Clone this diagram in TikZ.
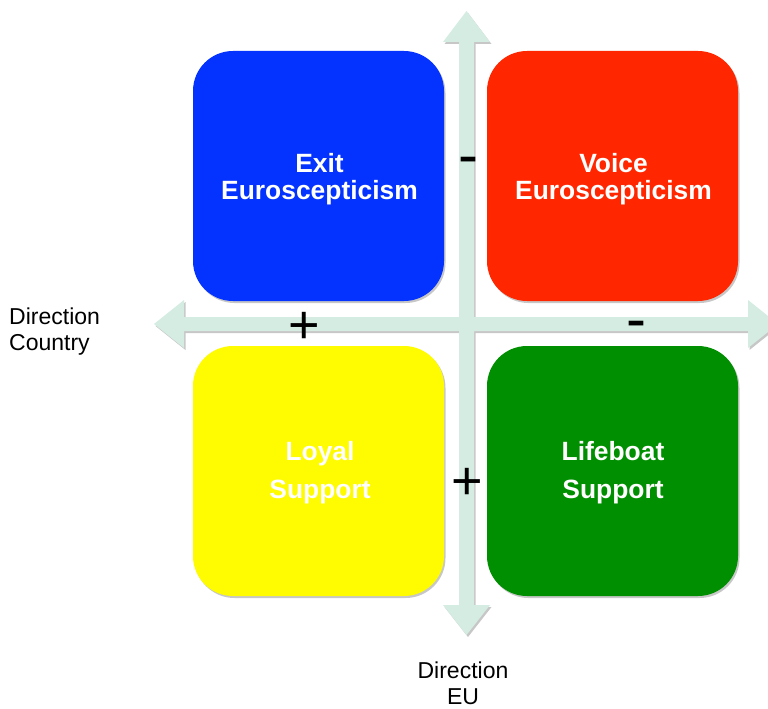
\documentclass[tikz,border=0pt]{standalone}
\usepackage{fontspec}
\setmainfont{Liberation Sans}
\usetikzlibrary{shadows}
\definecolor{axiscol}{RGB}{212,236,226}
\definecolor{exitcol}{RGB}{4,51,255}
\definecolor{voicecol}{RGB}{255,38,0}
\definecolor{loyalcol}{RGB}{255,251,0}
\definecolor{lifecol}{RGB}{0,143,0}
\tikzset{
  softshadow/.style={drop shadow={shadow xshift=1.5pt, shadow yshift=-2pt, opacity=0.22, fill=black}},
  quad/.style={draw=none, minimum width=251pt, minimum height=250pt, rounded corners=40pt, inner sep=0pt, softshadow},
  quadtext/.style={text=white, align=center, inner sep=0pt, font=\fontsize{26.4}{27}\selectfont\bfseries},
  quadtextwide/.style={quadtext, font=\fontsize{26.4}{38}\selectfont\bfseries},
  axislabel/.style={inner sep=0pt, font=\fontsize{23}{26}\selectfont},
  plussign/.style={inner sep=0pt, anchor=base, font=\fontsize{54}{54}\selectfont},
  minussign/.style={inner sep=0pt, anchor=base, font=\fontsize{60}{60}\selectfont},
}
\begin{document}
\begin{tikzpicture}[x=1pt,y=-1pt]
\useasboundingbox (0,0) rectangle (768,709);
\fill[white] (0,0) rectangle (768,709);

% both axes as one filled outline, so they share a single shadow
\fill[axiscol, softshadow]
  (466.5,11) -- (490,42) -- (474,42) -- (474,317) -- (748,317) -- (748,300)
  -- (778,324) -- (748,348) -- (748,331) -- (474,331) -- (474,605) -- (490,605)
  -- (466.5,635) -- (443,605) -- (459,605) -- (459,331) -- (184,331) -- (184,348)
  -- (154,324) -- (184,300) -- (184,317) -- (459,317) -- (459,42) -- (443,42) -- cycle;

% the four quadrants
\node[quad, fill=exitcol]  (exit)  at (318.5,176) {};
\node[quad, fill=voicecol] (voice) at (612.5,176) {};
\node[quad, fill=loyalcol] (loyal) at (318.5,471) {};
\node[quad, fill=lifecol]  (life)  at (612.5,471) {};

\node[quadtext, anchor=north] (exitlbl)  at (319.5,153) {Exit\\Euroscepticism};
\node[quadtext, anchor=north] (voicelbl) at (613.5,153) {Voice\\Euroscepticism};
\node[quadtextwide, anchor=north] (loyallbl) at (320,441) {Loyal\\Support};
\node[quadtextwide, anchor=north] (lifelbl)  at (613,441) {Lifeboat\\Support};

% signs along the axes
\node[minussign] (mtop)   at (468.5,175) {-};
\node[minussign] (mright) at (636.5,339) {-};
\node[plussign]  (pleft)  at (304.5,343.5) {+};
\node[plussign]  (pdown)  at (467.5,499.5) {+};

% axis names
\node[axislabel, anchor=north west, align=left] (country) at (9,307.5) {Direction\\Country};
\node[axislabel, anchor=north, align=center] (eu) at (463,662) {Direction\\EU};
\end{tikzpicture}
\end{document}
